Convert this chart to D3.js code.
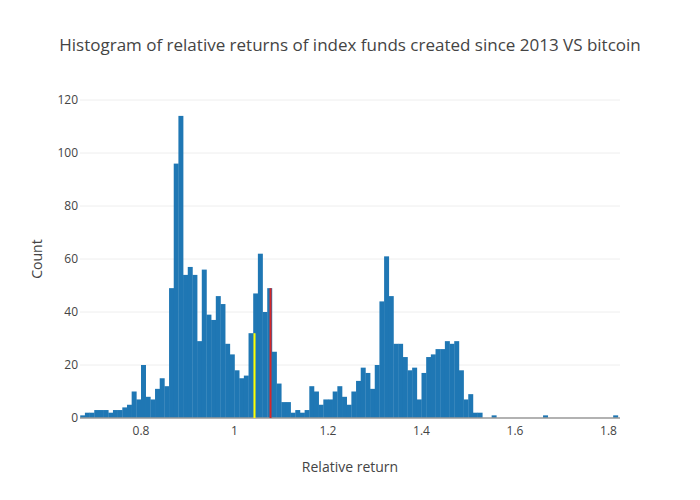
<!DOCTYPE html>
<html>
<head>
<meta charset="utf-8">
<script src="https://cdn.jsdelivr.net/npm/d3@7"></script>
<style>
  body { margin: 0; background: #fff; }
  text { font-family: "Open Sans", sans-serif; }
</style>
</head>
<body>
<div id="chart"></div>
<script>
const binStart = 0.67;
const binWidth = 0.01;
const counts = [
  1, 2, 2, 3, 3, 3, 2, 3, 3, 4, 5, 10, 7, 20, 8, 7, 11, 15, 12, 49,
  96, 114, 54, 57, 54, 29, 56, 39, 37, 46, 43, 28, 24, 18, 15, 16, 32, 47, 62, 40,
  49, 25, 13, 6, 6, 2, 3, 2, 3, 12, 10, 5, 7, 7, 10, 12, 8, 5, 10, 14,
  19, 17, 11, 20, 44, 61, 46, 28, 28, 23, 18, 19, 7, 17, 23, 24, 26, 26, 29, 28,
  29, 18, 7, 9, 2, 2, 0, 0, 1, 0, 0, 0, 0, 0, 0, 0, 0, 0, 0, 1,
  0, 0, 0, 0, 0, 0, 0, 0, 0, 0, 0, 0, 0, 0, 1
];
const markers = [
  { x: 1.0428, h: 32, color: "#ffff00" },
  { x: 1.077, h: 49, color: "#d62728" }
];
const xTicks = [0.8, 1, 1.2, 1.4, 1.6, 1.8];
const yTicks = [0, 20, 40, 60, 80, 100, 120];

const width = 700, height = 500;
const m = { left: 80, right: 80, top: 100, bottom: 82 };

const svg = d3.select("#chart").append("svg")
  .attr("width", width).attr("height", height);

const x = d3.scaleLinear().domain([0.6695, 1.8246]).range([m.left, width - m.right]);
const y = d3.scaleLinear().domain([0, 120]).range([height - m.bottom, m.top]);

// grid
svg.append("g").selectAll("line")
  .data(yTicks.slice(1))
  .join("line")
  .attr("x1", m.left).attr("x2", width - m.right)
  .attr("y1", d => y(d)).attr("y2", d => y(d))
  .attr("stroke", "#eee");

// bars
svg.append("g").selectAll("rect")
  .data(counts)
  .join("rect")
  .attr("x", (d, i) => x(binStart + i * binWidth))
  .attr("width", (d, i) => x(binStart + (i + 1) * binWidth) - x(binStart + i * binWidth) + 0.3)
  .attr("y", d => y(d))
  .attr("height", d => y(0) - y(d))
  .attr("fill", "#1f77b4");

// zero line
svg.append("line")
  .attr("x1", m.left).attr("x2", width - m.right)
  .attr("y1", y(0)).attr("y2", y(0))
  .attr("stroke", "#999").attr("stroke-width", 1.5);

// marker lines
svg.append("g").selectAll("line")
  .data(markers)
  .join("line")
  .attr("x1", d => x(d.x)).attr("x2", d => x(d.x))
  .attr("y1", y(0)).attr("y2", d => y(d.h))
  .attr("stroke", d => d.color).attr("stroke-width", 2);

// tick labels
svg.append("g").selectAll("text")
  .data(xTicks)
  .join("text")
  .attr("x", d => x(d)).attr("y", y(0) + 17)
  .attr("text-anchor", "middle")
  .attr("font-size", 12).attr("fill", "#444")
  .text(d => d);

svg.append("g").selectAll("text")
  .data(yTicks)
  .join("text")
  .attr("x", m.left - 2).attr("y", d => y(d) + 4)
  .attr("text-anchor", "end")
  .attr("font-size", 12).attr("fill", "#444")
  .text(d => d);

svg.append("text")
  .attr("x", 350).attr("y", 51)
  .attr("text-anchor", "middle")
  .attr("font-size", 17).attr("fill", "#444")
  .text("Histogram of relative returns of index funds created since 2013 VS bitcoin");

svg.append("text")
  .attr("x", 350).attr("y", 472)
  .attr("text-anchor", "middle")
  .attr("font-size", 14).attr("fill", "#444")
  .text("Relative return");

svg.append("text")
  .attr("transform", `translate(42,${(m.top + height - m.bottom) / 2}) rotate(-90)`)
  .attr("text-anchor", "middle")
  .attr("font-size", 14).attr("fill", "#444")
  .text("Count");
</script>
</body>
</html>
